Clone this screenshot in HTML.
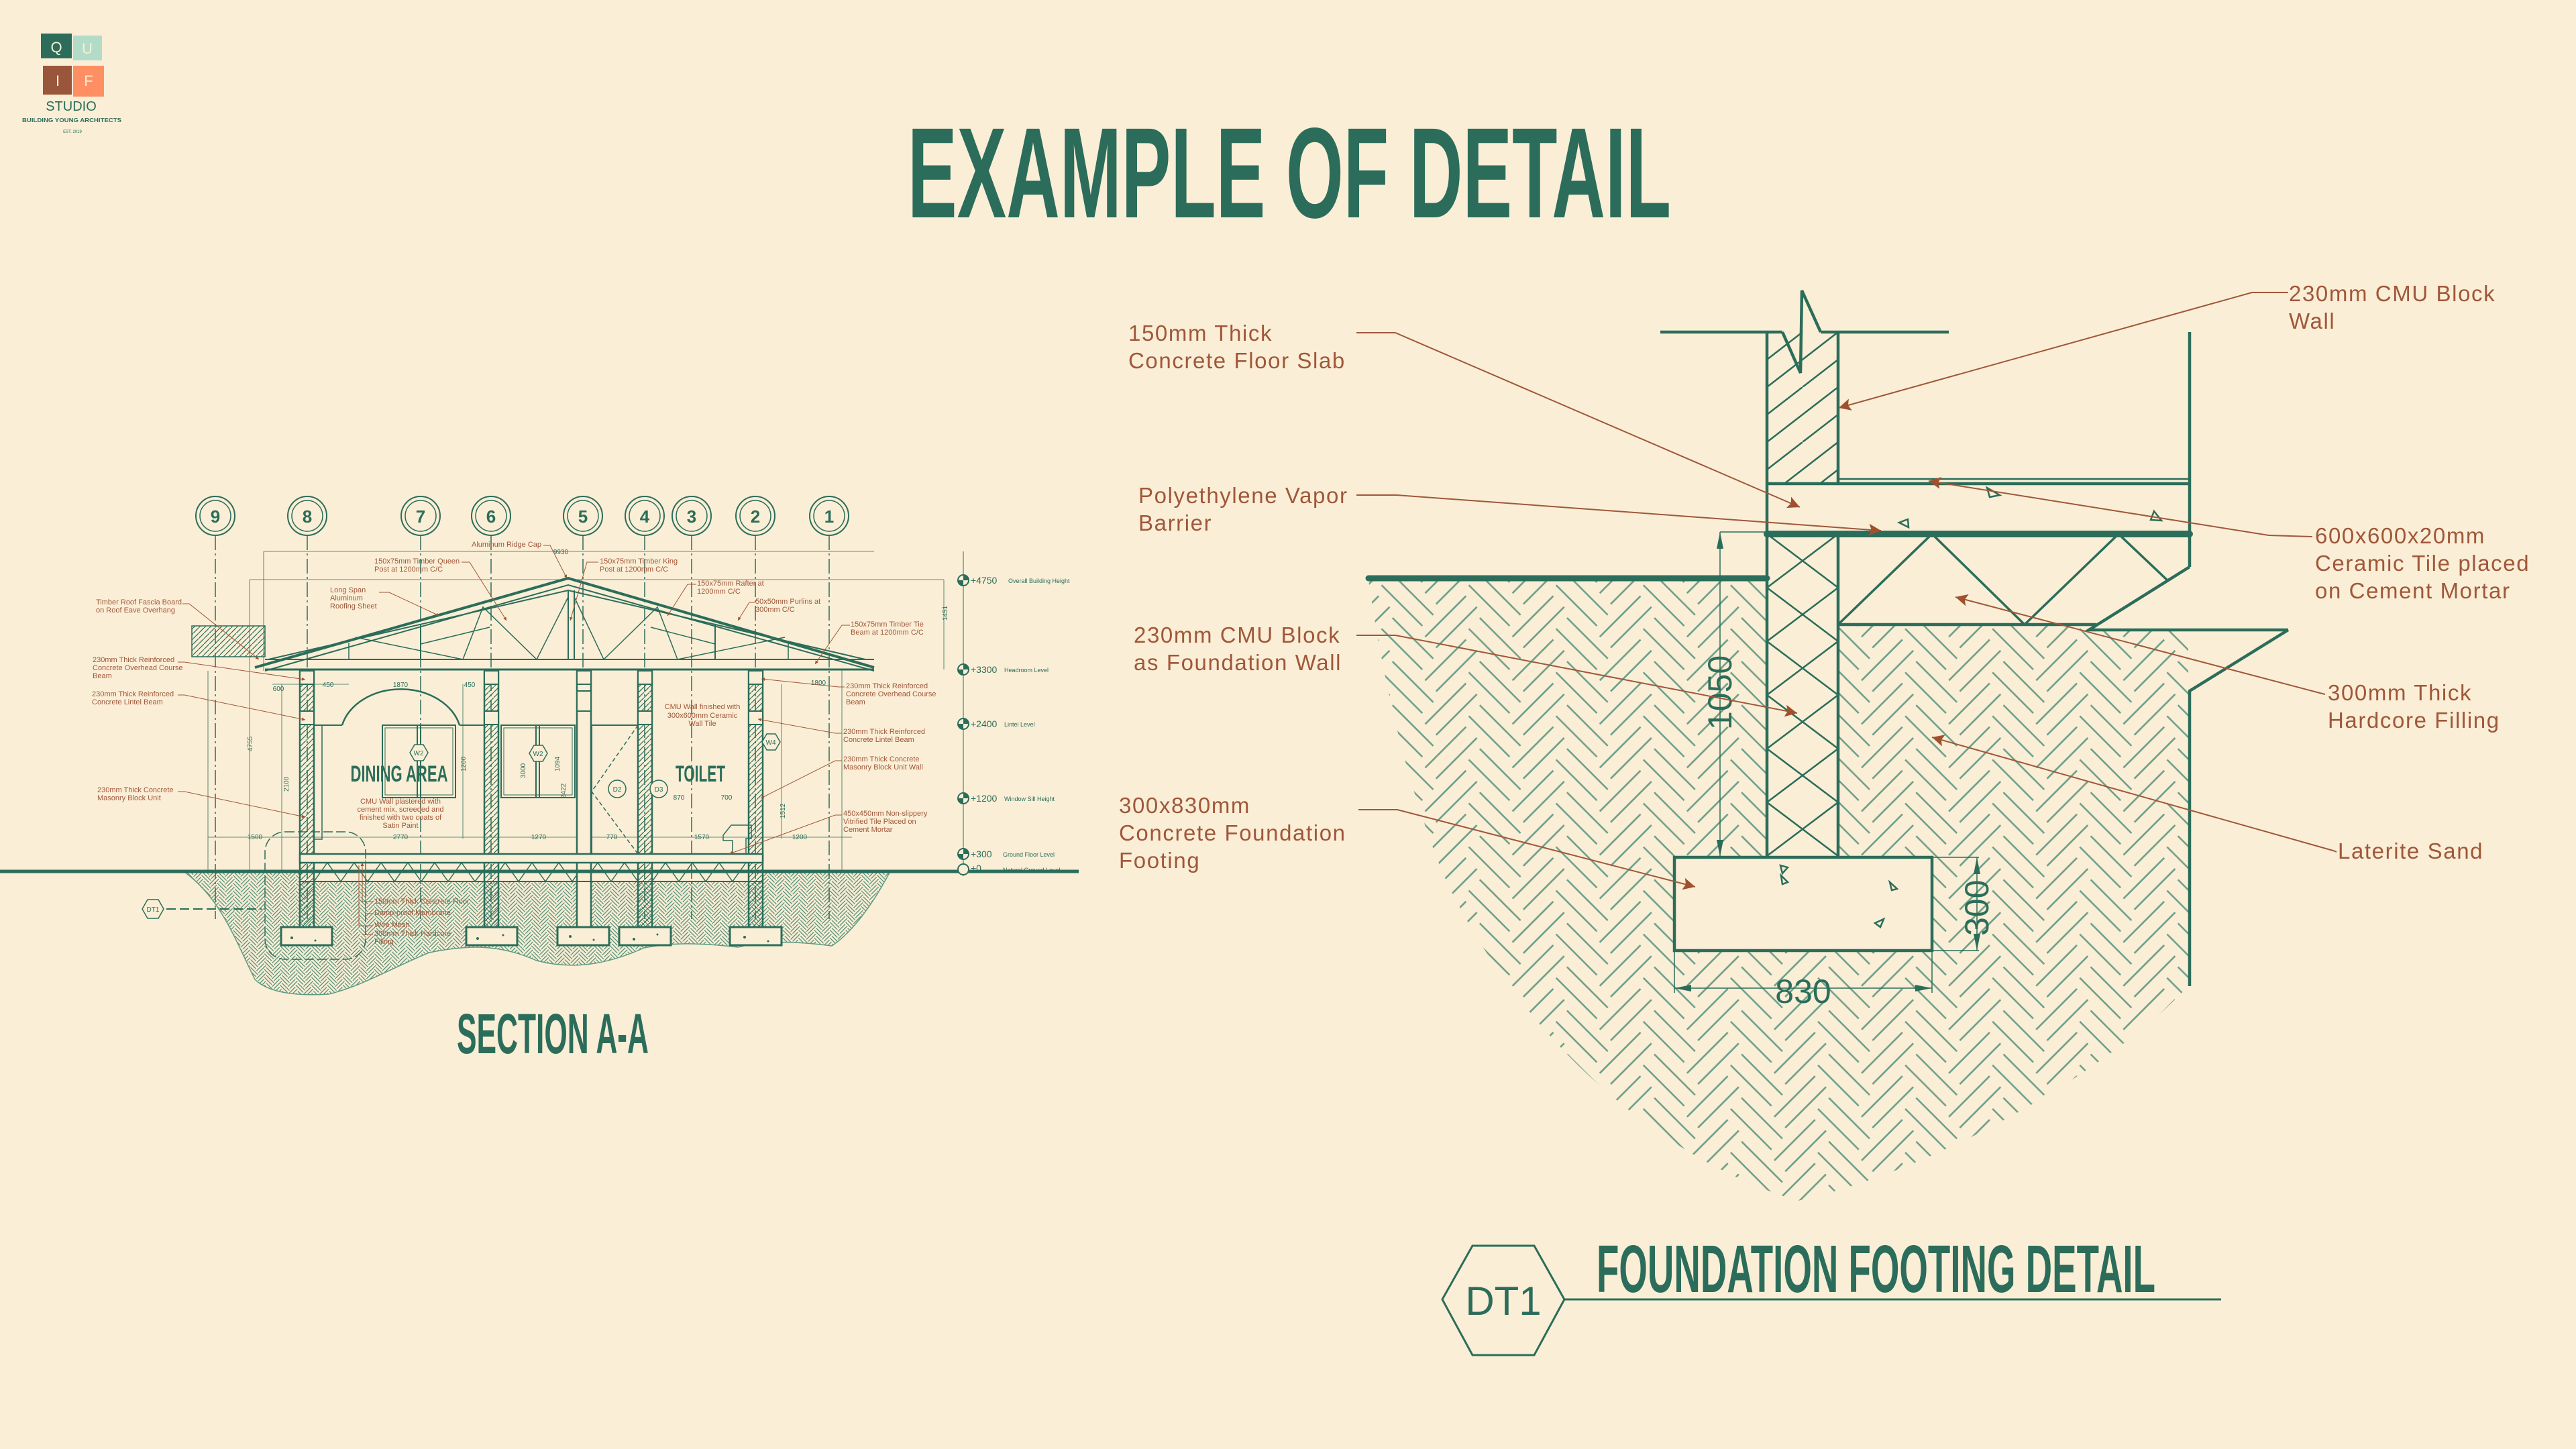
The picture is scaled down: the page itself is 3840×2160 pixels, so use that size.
<!DOCTYPE html>
<html><head><meta charset="utf-8"><style>
html,body{margin:0;padding:0;background:#faeed6;}
svg{display:block}
.lb{font-family:"Liberation Sans",sans-serif;font-size:33px;fill:#a0573a;letter-spacing:1.6px}
.sl{font-family:"Liberation Sans Narrow","Liberation Sans",sans-serif;font-size:11px;fill:#a0573a}
.dm{font-family:"Liberation Sans Narrow","Liberation Sans",sans-serif;font-size:10px;fill:#2b6d5a}
.ld{stroke:#a0573a;stroke-width:2;fill:none}
.lds{stroke:#a0573a;stroke-width:1;fill:none}
.g{stroke:#2b6d5a;fill:none}
</style></head><body>
<svg width="3840" height="2160" viewBox="0 0 3840 2160" xmlns="http://www.w3.org/2000/svg">
<defs>
<pattern id="earth" width="184" height="184" patternUnits="userSpaceOnUse" patternTransform="rotate(45)">
<path stroke="#6a9e88" stroke-width="2.6" fill="none" d="M3 11.5H89 M3 34.5H89 M49 57.5H135 M49 80.5H135 M95 103.5H181 M95 126.5H181 M141 149.5H227 M141 172.5H227 M-43 149.5H43 M-43 172.5H43 M11.5 49V135 M34.5 49V135 M57.5 95V181 M80.5 95V181 M103.5 141V227 M126.5 141V227 M103.5 -43V43 M126.5 -43V43 M149.5 3V89 M172.5 3V89"/></pattern>
<pattern id="earthS" width="184" height="184" patternUnits="userSpaceOnUse" patternTransform="rotate(45) scale(0.18)">
<path stroke="#4f8c74" stroke-width="7" fill="none" d="M3 11.5H89 M3 34.5H89 M49 57.5H135 M49 80.5H135 M95 103.5H181 M95 126.5H181 M141 149.5H227 M141 172.5H227 M-43 149.5H43 M-43 172.5H43 M11.5 49V135 M34.5 49V135 M57.5 95V181 M80.5 95V181 M103.5 141V227 M126.5 141V227 M103.5 -43V43 M126.5 -43V43 M149.5 3V89 M172.5 3V89"/></pattern>
<pattern id="xwall" x="2634" y="796" width="106" height="80" patternUnits="userSpaceOnUse">
<path d="M0 0 L106 80 M106 0 L0 80" stroke="#2b6d5a" stroke-width="2.5"/></pattern>
<pattern id="dwall" x="2634" y="495" width="106" height="82" patternUnits="userSpaceOnUse">
<path d="M0 82 L106 0 M-53 41 L0 0 M53 82 L106 41 M0 41 L53 0 M53 164 L106 82" stroke="#2b6d5a" stroke-width="2.5"/></pattern>
<pattern id="shat" width="8" height="8" patternUnits="userSpaceOnUse"><path d="M0 8 L8 0" stroke="#2b6d5a" stroke-width="1.2"/></pattern>
<marker id="ah" viewBox="0 0 10 10" refX="10" refY="5" markerWidth="44" markerHeight="18" markerUnits="userSpaceOnUse" orient="auto"><path d="M0 0 L10 5 L0 10 L2 5Z" fill="#a0502f"/></marker>
<marker id="ahs" viewBox="0 0 10 10" refX="10" refY="5" markerWidth="10" markerHeight="5" markerUnits="userSpaceOnUse" orient="auto"><path d="M0 0 L10 5 L0 10Z" fill="#a0502f"/></marker>
</defs>

<!-- LOGO -->
<rect x="61" y="50" width="46" height="37" fill="#2b6d5a"/>
<rect x="109" y="53" width="43" height="37" fill="#b2dcc8"/>
<rect x="64" y="98" width="43" height="43" fill="#9a563a"/>
<rect x="109" y="98" width="46" height="46" fill="#fe8f63"/>
<g font-family="Liberation Sans,sans-serif" fill="#faeed6" font-size="22" text-anchor="middle">
<text x="84" y="78">Q</text><text x="130" y="80">U</text><text x="86" y="128">I</text><text x="132" y="128">F</text></g>
<text x="106" y="165" font-family="Liberation Sans,sans-serif" font-size="20" fill="#2b6d5a" text-anchor="middle">STUDIO</text>
<text x="107" y="182" font-family="Liberation Sans,sans-serif" font-size="8.5" font-weight="bold" fill="#2b6d5a" text-anchor="middle" textLength="148" lengthAdjust="spacingAndGlyphs">BUILDING YOUNG ARCHITECTS</text>
<text x="108" y="198" font-family="Liberation Sans,sans-serif" font-size="6" fill="#2b6d5a" text-anchor="middle">EST. 2019</text>

<!-- TITLE -->
<text x="1353" y="324" font-family="Liberation Sans Narrow,Liberation Sans,sans-serif" font-weight="bold" font-size="192" fill="#2b6d5a" textLength="1138" lengthAdjust="spacingAndGlyphs">EXAMPLE OF DETAIL</text>

<!-- ============ FOUNDATION DETAIL ============ -->
<path d="M2040 865 L3262 865 L3262 1470 C3150 1590 2900 1740 2680 1790 C2450 1720 2250 1520 2150 1300 C2090 1150 2060 1000 2040 865Z" fill="url(#earth)"/>
<rect x="2040" y="495" width="1230" height="370" fill="#faeed6"/>
<rect x="2740" y="796" width="530" height="135" fill="#faeed6"/>
<path d="M3262 845 L3114 939 L3262 939Z" fill="#faeed6"/>
<rect x="2634" y="495" width="106" height="301" fill="#faeed6"/>
<rect x="2634" y="495" width="106" height="226" fill="url(#dwall)"/>
<rect x="2634" y="796" width="106" height="482" fill="#faeed6"/>
<rect x="2634" y="796" width="106" height="482" fill="url(#xwall)"/>
<rect x="2496" y="1278" width="384" height="139" fill="#faeed6"/>
<g class="g" stroke-width="4.5">
<line x1="2475" y1="495" x2="2657" y2="495"/><line x1="2714" y1="495" x2="2905" y2="495"/>
<polyline points="2657,495 2684,556 2686,433 2714,495"/>
<line x1="2634" y1="495" x2="2634" y2="1278"/><line x1="2740" y1="495" x2="2740" y2="721"/>
<line x1="2740" y1="796" x2="2740" y2="1278"/>
<line x1="3264" y1="495" x2="3264" y2="845"/>
<line x1="2740" y1="714" x2="3264" y2="714" stroke-width="2.5"/>
<line x1="2634" y1="721" x2="3264" y2="721"/>
<polyline points="3264,845 3114,939 3411,939"/>
<polyline points="3411,939 3264,1030 3264,1470"/>
<line x1="2740" y1="931" x2="3125" y2="931"/>
<polyline points="2740,931 2880,796 3018,931 3158,796 3232,866" stroke-width="3.5"/>
<rect x="2496" y="1278" width="384" height="139"/>
</g>
<line x1="2634" y1="796" x2="3264" y2="796" stroke="#2b6d5a" stroke-width="10" stroke-linecap="round"/>
<line x1="2040" y1="862" x2="2634" y2="862" stroke="#2b6d5a" stroke-width="9" stroke-linecap="round"/>
<g stroke="#2b6d5a" stroke-width="2.5" fill="none">
<path d="M2962 727 L2966 741 L2981 738Z"/><path d="M3211 762 L3206 775 L3222 776Z"/><path d="M2831 779 L2844 774 L2845 786Z"/>
<path d="M2654 1290 L2657 1302 L2665 1293Z"/><path d="M2655 1305 L2657 1318 L2665 1315Z"/><path d="M2817 1315 L2820 1327 L2828 1325Z"/><path d="M2795 1376 L2808 1370 L2803 1382Z"/>
</g>
<g stroke="#2b6d5a" stroke-width="1.5" fill="none">
<line x1="2564" y1="793" x2="2634" y2="793"/><line x1="2564" y1="793" x2="2564" y2="1277"/>
<line x1="2496" y1="1417" x2="2496" y2="1480"/><line x1="2880" y1="1417" x2="2880" y2="1480"/><line x1="2496" y1="1473" x2="2880" y2="1473"/>
<line x1="2880" y1="1278" x2="2950" y2="1278"/><line x1="2880" y1="1417" x2="2950" y2="1417"/><line x1="2947" y1="1278" x2="2947" y2="1417"/>
</g>
<g fill="#2b6d5a"><path d="M2564 793 l-5 25 h10z"/><path d="M2564 1277 l-5 -25 h10z"/><path d="M2496 1473 l25 -5 v10z"/><path d="M2880 1473 l-25 -5 v10z"/><path d="M2947 1278 l-5 25 h10z"/><path d="M2947 1417 l-5 -25 h10z"/></g>
<g font-family="Liberation Sans,sans-serif" font-size="50" fill="#2b6d5a">
<text transform="translate(2581,1088) rotate(-90)">1050</text>
<text x="2688" y="1495" text-anchor="middle">830</text>
<text transform="translate(2964,1395) rotate(-90)">300</text>
</g>
<g class="ld">
<polyline points="2022,496 2080,496 2683,756" marker-end="url(#ah)"/>
<polyline points="2022,738 2082,738 2804,791" marker-end="url(#ah)"/>
<polyline points="2022,947 2080,947 2679,1063" marker-end="url(#ah)"/>
<polyline points="2025,1207 2083,1207 2527,1322" marker-end="url(#ah)"/>
<polyline points="3411,436 3357,436 2741,608" marker-end="url(#ah)"/>
<polyline points="3447,800 3382,798 2875,717" marker-end="url(#ah)"/>
<polyline points="3466,1035 3458,1033 2915,890" marker-end="url(#ah)"/>
<polyline points="3483,1270 3478,1268 2880,1099" marker-end="url(#ah)"/>
</g>
<g class="lb">
<text x="1682" y="508">150mm Thick</text><text x="1682" y="549">Concrete Floor Slab</text>
<text x="1697" y="750">Polyethylene Vapor</text><text x="1697" y="791">Barrier</text>
<text x="1690" y="958">230mm CMU Block</text><text x="1690" y="999">as Foundation Wall</text>
<text x="1668" y="1212">300x830mm</text><text x="1668" y="1253">Concrete Foundation</text><text x="1668" y="1294">Footing</text>
<text x="3412" y="449">230mm CMU Block</text><text x="3412" y="490">Wall</text>
<text x="3451" y="810">600x600x20mm</text><text x="3451" y="851">Ceramic Tile placed</text><text x="3451" y="892">on Cement Mortar</text>
<text x="3470" y="1044">300mm Thick</text><text x="3470" y="1085">Hardcore Filling</text>
<text x="3485" y="1280">Laterite Sand</text>
</g>
<polygon points="2150,1937 2195,1857 2287,1857 2332,1937 2287,2020 2195,2020" fill="none" stroke="#2b6d5a" stroke-width="3"/>
<text x="2241" y="1960" font-family="Liberation Sans,sans-serif" font-size="60" fill="#2b6d5a" text-anchor="middle">DT1</text>
<line x1="2332" y1="1937" x2="3311" y2="1937" stroke="#2b6d5a" stroke-width="3"/>
<text x="2380" y="1926" font-family="Liberation Sans Narrow,Liberation Sans,sans-serif" font-weight="bold" font-size="100" fill="#2b6d5a" textLength="833" lengthAdjust="spacingAndGlyphs">FOUNDATION FOOTING DETAIL</text>

<!-- ============ SECTION A-A ============ -->
<path d="M274 1299 L1327 1299 C1300 1350 1270 1390 1240 1410 C1200 1405 1150 1400 1100 1412 C1040 1405 1000 1405 960 1413 C900 1440 850 1445 800 1432 C740 1405 690 1410 640 1420 C590 1440 540 1470 490 1482 C440 1485 400 1480 380 1460 C350 1400 330 1340 274 1299Z" fill="url(#earthS)" stroke="#5f9c84" stroke-width="1.5"/>
<rect x="447" y="1286" width="690" height="28" fill="#faeed6"/>
<g stroke="#2b6d5a" fill="#faeed6">
<g stroke-width="2"><circle cx="321" cy="769" r="29"/><circle cx="458" cy="769" r="29"/><circle cx="627" cy="769" r="29"/><circle cx="732" cy="769" r="29"/><circle cx="869" cy="769" r="29"/><circle cx="961" cy="769" r="29"/><circle cx="1031" cy="769" r="29"/><circle cx="1126" cy="769" r="29"/><circle cx="1236" cy="769" r="29"/></g>
<g stroke-width="1.5"><circle cx="321" cy="769" r="23"/><circle cx="458" cy="769" r="23"/><circle cx="627" cy="769" r="23"/><circle cx="732" cy="769" r="23"/><circle cx="869" cy="769" r="23"/><circle cx="961" cy="769" r="23"/><circle cx="1031" cy="769" r="23"/><circle cx="1126" cy="769" r="23"/><circle cx="1236" cy="769" r="23"/></g>
</g>
<g font-family="Liberation Sans Narrow,Liberation Sans,sans-serif" font-weight="bold" font-size="26" fill="#2b6d5a" text-anchor="middle">
<text x="321" y="779">9</text><text x="458" y="779">8</text><text x="627" y="779">7</text><text x="732" y="779">6</text><text x="869" y="779">5</text><text x="961" y="779">4</text><text x="1031" y="779">3</text><text x="1126" y="779">2</text><text x="1236" y="779">1</text></g>
<g stroke="#2b6d5a" stroke-width="1.5" stroke-dasharray="22 5 3 5">
<line x1="321" y1="798" x2="321" y2="1370"/><line x1="458" y1="798" x2="458" y2="1370"/><line x1="627" y1="798" x2="627" y2="1370"/><line x1="732" y1="798" x2="732" y2="1370"/><line x1="869" y1="798" x2="869" y2="1370"/><line x1="961" y1="798" x2="961" y2="1370"/><line x1="1031" y1="798" x2="1031" y2="1370"/><line x1="1126" y1="798" x2="1126" y2="1370"/><line x1="1236" y1="798" x2="1236" y2="1370"/></g>
<g stroke="#2b6d5a" stroke-width="0.8" fill="none">
<line x1="393" y1="822" x2="1303" y2="822"/><line x1="372" y1="864" x2="1407" y2="864"/><line x1="372" y1="864" x2="372" y2="1298"/><line x1="1407" y1="864" x2="1407" y2="998"/>
<line x1="310" y1="1248" x2="1270" y2="1248"/><line x1="393" y1="822" x2="393" y2="1000"/>
<line x1="406" y1="1020" x2="520" y2="1020"/><line x1="420" y1="1020" x2="420" y2="1298"/>
<line x1="690" y1="1020" x2="690" y2="1250"/><line x1="1165" y1="1020" x2="1165" y2="1250"/>
<line x1="1255" y1="998" x2="1255" y2="1298"/><line x1="310" y1="1000" x2="310" y2="1298"/>
</g>
<rect x="286" y="933" width="109" height="46" fill="url(#shat)" stroke="#2b6d5a" stroke-width="1.5"/>
<g class="g">
<polyline points="380,995 847,862 1303,995" stroke-width="4"/>
<polyline points="395,1000 847,872 1303,1000" stroke-width="2"/>
<polyline points="400,983 847,880 1290,983" stroke-width="2"/>
<line x1="395" y1="983" x2="1303" y2="983" stroke-width="2"/>
<line x1="395" y1="998" x2="1303" y2="998" stroke-width="3"/>
<line x1="847" y1="880" x2="847" y2="983" stroke-width="2"/><line x1="856" y1="880" x2="856" y2="983" stroke-width="2"/>
<line x1="627" y1="930" x2="627" y2="983" stroke-width="2"/><line x1="1066" y1="930" x2="1066" y2="983" stroke-width="2"/>
<line x1="520" y1="958" x2="520" y2="983" stroke-width="1.5"/><line x1="1175" y1="958" x2="1175" y2="983" stroke-width="1.5"/>
<polyline points="530,950 690,983 720,905 800,983 847,890" stroke-width="1.5"/>
<polyline points="1170,950 1010,983 980,905 900,983 856,890" stroke-width="1.5"/>
<polyline points="627,960 730,935" stroke-width="1.5"/><polyline points="1066,960 970,935" stroke-width="1.5"/>
</g>
<g>
<rect x="447" y="998" width="21" height="384" fill="url(#shat)" stroke="#2b6d5a" stroke-width="2.5"/>
<rect x="722" y="998" width="21" height="384" fill="url(#shat)" stroke="#2b6d5a" stroke-width="2.5"/>
<rect x="860" y="998" width="21" height="384" fill="#faeed6" stroke="#2b6d5a" stroke-width="2.5"/>
<rect x="951" y="998" width="21" height="384" fill="url(#shat)" stroke="#2b6d5a" stroke-width="2.5"/>
<rect x="1116" y="998" width="21" height="384" fill="url(#shat)" stroke="#2b6d5a" stroke-width="2.5"/>
</g>
<g fill="#faeed6" stroke="#2b6d5a" stroke-width="2">
<rect x="447" y="1000" width="21" height="20"/><rect x="447" y="1060" width="21" height="20"/>
<rect x="722" y="1000" width="21" height="20"/><rect x="722" y="1060" width="21" height="20"/>
<rect x="860" y="1000" width="21" height="20"/><rect x="860" y="1030" width="21" height="30"/>
<rect x="951" y="1000" width="21" height="20"/><rect x="951" y="1060" width="21" height="20"/>
<rect x="1116" y="1000" width="21" height="20"/><rect x="1116" y="1060" width="21" height="20"/>
</g>
<g class="g" stroke-width="2">
<rect x="570" y="1081" width="109" height="108"/><rect x="574" y="1085" width="101" height="100" stroke-width="1"/><line x1="622" y1="1081" x2="622" y2="1189"/><line x1="627" y1="1081" x2="627" y2="1189"/>
<rect x="747" y="1081" width="110" height="108"/><rect x="751" y="1085" width="102" height="100" stroke-width="1"/><line x1="799" y1="1081" x2="799" y2="1189"/><line x1="804" y1="1081" x2="804" y2="1189"/>
<rect x="882" y="1081" width="69" height="192"/>
<polyline points="951,1081 882,1180 951,1273" stroke-dasharray="6 4" stroke-width="1.5"/>
<path d="M510 1081 A90 70 0 0 1 685 1081" stroke-width="2.5"/>
<line x1="468" y1="1081" x2="510" y2="1081"/><line x1="685" y1="1081" x2="722" y2="1081"/>
<rect x="468" y="1081" width="12" height="170" stroke-width="1.5"/>
<line x1="1137" y1="1130" x2="1137" y2="1273" stroke-width="1"/>
<path d="M1090 1230 h30 v20 h-8 v25 h-20 v-22 h-14 v-8z" stroke-width="1.5"/>
</g>
<rect x="447" y="1273" width="690" height="13" fill="#faeed6" stroke="#2b6d5a" stroke-width="2.5"/>
<g class="g" stroke-width="1.5">
<line x1="447" y1="1314" x2="1137" y2="1314" stroke-width="2"/>
<polyline points="468,1314 488,1286 508,1314 528,1286 548,1314 568,1286 588,1314 608,1286 628,1314 648,1286 668,1314 688,1286 708,1314 722,1296"/>
<polyline points="743,1300 753,1286 773,1314 793,1286 813,1314 833,1286 853,1314 860,1304"/>
<polyline points="881,1300 891,1286 911,1314 931,1286 951,1314"/>
<polyline points="972,1314 992,1286 1012,1314 1032,1286 1052,1314 1072,1286 1092,1314 1112,1286"/>
</g>
<g fill="#faeed6" stroke="#2b6d5a" stroke-width="3">
<rect x="419" y="1382" width="76" height="27"/><rect x="695" y="1382" width="76" height="27"/><rect x="831" y="1382" width="77" height="27"/><rect x="923" y="1382" width="77" height="27"/><rect x="1088" y="1382" width="77" height="27"/>
</g>
<g fill="#2b6d5a"><circle cx="435" cy="1398" r="2"/><circle cx="712" cy="1399" r="2"/><circle cx="850" cy="1396" r="2"/><circle cx="945" cy="1400" r="2"/><circle cx="1110" cy="1397" r="2"/><circle cx="470" cy="1402" r="1.5"/><circle cx="750" cy="1394" r="1.5"/><circle cx="885" cy="1401" r="1.5"/><circle cx="980" cy="1393" r="1.5"/><circle cx="1145" cy="1403" r="1.5"/></g>
<rect x="395" y="1240" width="150" height="190" rx="30" fill="none" stroke="#2b6d5a" stroke-width="1.5" stroke-dasharray="14 5"/>
<polygon points="212,1355 220,1341 236,1341 244,1355 236,1369 220,1369" fill="#faeed6" stroke="#2b6d5a" stroke-width="1.5"/>
<text x="228" y="1359" class="dm" text-anchor="middle">DT1</text>
<line x1="248" y1="1355" x2="390" y2="1355" stroke="#2b6d5a" stroke-width="2" stroke-dasharray="14 6"/>
<line x1="0" y1="1299" x2="1608" y2="1299" stroke="#2b6d5a" stroke-width="5"/>
<line x1="1436" y1="822" x2="1436" y2="1306" stroke="#2b6d5a" stroke-width="1"/>
<g fill="#faeed6" stroke="#2b6d5a" stroke-width="2">
<circle cx="1436" cy="865" r="8"/><circle cx="1436" cy="998" r="8"/><circle cx="1436" cy="1079" r="8"/><circle cx="1436" cy="1190" r="8"/><circle cx="1436" cy="1273" r="8"/><circle cx="1436" cy="1296" r="8"/></g>
<g fill="#2b6d5a"><path d="M1436 857 a8 8 0 0 1 8 8 h-8z M1436 873 a8 8 0 0 1 -8 -8 h8z"/><path d="M1436 990 a8 8 0 0 1 8 8 h-8z M1436 1006 a8 8 0 0 1 -8 -8 h8z"/><path d="M1436 1071 a8 8 0 0 1 8 8 h-8z M1436 1087 a8 8 0 0 1 -8 -8 h8z"/><path d="M1436 1182 a8 8 0 0 1 8 8 h-8z M1436 1198 a8 8 0 0 1 -8 -8 h8z"/><path d="M1436 1265 a8 8 0 0 1 8 8 h-8z M1436 1281 a8 8 0 0 1 -8 -8 h8z"/></g>
<g font-family="Liberation Sans Narrow,Liberation Sans,sans-serif" fill="#2b6d5a">
<g font-size="14"><text x="1447" y="870">+4750</text><text x="1447" y="1003">+3300</text><text x="1447" y="1084">+2400</text><text x="1447" y="1195">+1200</text><text x="1447" y="1278">+300</text><text x="1447" y="1299">+0</text></g>
<g font-size="9"><text x="1503" y="869">Overall Building Height</text><text x="1497" y="1002">Headroom Level</text><text x="1497" y="1083">Lintel Level</text><text x="1497" y="1194">Window Sill Height</text><text x="1495" y="1277">Ground Floor Level</text><text x="1495" y="1300">Natural Ground Level</text></g>
</g>
<g font-family="Liberation Sans Narrow,Liberation Sans,sans-serif" font-weight="bold" font-size="34" fill="#2b6d5a" text-anchor="middle">
<text x="595" y="1165" textLength="145" lengthAdjust="spacingAndGlyphs">DINING AREA</text>
<text x="1044" y="1165" textLength="74" lengthAdjust="spacingAndGlyphs">TOILET</text></g>
<g fill="#faeed6" stroke="#2b6d5a" stroke-width="1.5">
<polygon points="611,1122 618,1110 631,1110 638,1122 631,1134 618,1134"/>
<polygon points="789,1123 796,1111 809,1111 816,1123 809,1135 796,1135"/>
<polygon points="1136,1106 1143,1094 1156,1094 1163,1106 1156,1118 1143,1118"/>
<circle cx="920" cy="1176" r="13"/><circle cx="982" cy="1176" r="13"/></g>
<g class="dm" font-size="11" text-anchor="middle"><text x="624" y="1126">W2</text><text x="802" y="1127">W2</text><text x="1149" y="1110">W4</text><text x="920" y="1180">D2</text><text x="982" y="1180">D3</text></g>
<g class="dm" text-anchor="middle">
<text x="836" y="826">9930</text><text x="489" y="1024">450</text><text x="597" y="1024">1870</text><text x="700" y="1024">450</text><text x="1220" y="1021">1800</text>
<text x="380" y="1251">1500</text><text x="597" y="1251">2770</text><text x="803" y="1251">1270</text><text x="912" y="1251">770</text><text x="1046" y="1251">1570</text><text x="1192" y="1251">1200</text>
<text x="1012" y="1192">870</text><text x="1083" y="1192">700</text><text x="415" y="1030">600</text>
</g>
<g class="dm"><text transform="translate(376,1120) rotate(-90)">4755</text><text transform="translate(430,1180) rotate(-90)">2100</text><text transform="translate(834,1150) rotate(-90)">1094</text><text transform="translate(1412,925) rotate(-90)">1451</text><text transform="translate(783,1160) rotate(-90)">3000</text><text transform="translate(843,1190) rotate(-90)">2422</text><text transform="translate(694,1150) rotate(-90)">1200</text><text transform="translate(1170,1220) rotate(-90)">1512</text></g>
<g class="sl">
<text x="703" y="815">Aluminum Ridge Cap</text>
<text x="558" y="840">150x75mm Timber Queen</text><text x="558" y="852">Post at 1200mm C/C</text>
<text x="894" y="840">150x75mm Timber King</text><text x="894" y="852">Post at 1200mm C/C</text>
<text x="492" y="883">Long Span</text><text x="492" y="895">Aluminum</text><text x="492" y="907">Roofing Sheet</text>
<text x="143" y="901">Timber Roof Fascia Board</text><text x="143" y="913">on Roof Eave Overhang</text>
<text x="1039" y="873">150x75mm Rafter at</text><text x="1039" y="885">1200mm C/C</text>
<text x="1126" y="900">50x50mm Purlins at</text><text x="1126" y="912">300mm C/C</text>
<text x="1268" y="934">150x75mm Timber Tie</text><text x="1268" y="946">Beam at 1200mm C/C</text>
<text x="138" y="987">230mm Thick Reinforced</text><text x="138" y="999">Concrete Overhead Course</text><text x="138" y="1011">Beam</text>
<text x="137" y="1038">230mm Thick Reinforced</text><text x="137" y="1050">Concrete Lintel Beam</text>
<text x="145" y="1181">230mm Thick Concrete</text><text x="145" y="1193">Masonry Block Unit</text>
<text x="1261" y="1026">230mm Thick Reinforced</text><text x="1261" y="1038">Concrete Overhead Course</text><text x="1261" y="1050">Beam</text>
<text x="1257" y="1094">230mm Thick Reinforced</text><text x="1257" y="1106">Concrete Lintel Beam</text>
<text x="1257" y="1135">230mm Thick Concrete</text><text x="1257" y="1147">Masonry Block Unit Wall</text>
<text x="1257" y="1216">450x450mm Non-slippery</text><text x="1257" y="1228">Vitrified Tile Placed on</text><text x="1257" y="1240">Cement Mortar</text>
<text x="558" y="1347">150mm Thick Concrete Floor</text><text x="558" y="1364">Damp-proof Membrane</text><text x="558" y="1382">Wire Mesh</text><text x="558" y="1395">300mm Thick Hardcore</text><text x="558" y="1407">Filling</text>
</g>
<g class="sl" text-anchor="middle">
<text x="1047" y="1057">CMU Wall finished with</text><text x="1047" y="1070">300x600mm Ceramic</text><text x="1047" y="1082">Wall Tile</text>
<text x="597" y="1198">CMU Wall plastered with</text><text x="597" y="1210">cement mix, screeded and</text><text x="597" y="1222">finished with two coats of</text><text x="597" y="1234">Satin Paint</text>
</g>
<g class="lds">
<polyline points="810,813 820,813 845,862" marker-end="url(#ahs)"/>
<polyline points="688,838 700,838 755,925" marker-end="url(#ahs)"/>
<polyline points="892,838 875,838 850,925" marker-end="url(#ahs)"/>
<polyline points="565,883 580,883 655,918" marker-end="url(#ahs)"/>
<polyline points="272,900 282,900 386,983" marker-end="url(#ahs)"/>
<polyline points="1038,871 1025,871 995,918" marker-end="url(#ahs)"/>
<polyline points="1125,898 1117,898 1100,925" marker-end="url(#ahs)"/>
<polyline points="1267,932 1255,932 1215,990" marker-end="url(#ahs)"/>
<polyline points="265,987 275,987 455,1013" marker-end="url(#ahs)"/>
<polyline points="265,1036 275,1036 455,1073" marker-end="url(#ahs)"/>
<polyline points="265,1180 275,1180 455,1218" marker-end="url(#ahs)"/>
<polyline points="1259,1024 1250,1024 1135,1012" marker-end="url(#ahs)"/>
<polyline points="1255,1093 1245,1093 1130,1072" marker-end="url(#ahs)"/>
<polyline points="1255,1134 1245,1134 1134,1190" marker-end="url(#ahs)"/>
<polyline points="1255,1215 1245,1215 1087,1273" marker-end="url(#ahs)"/>
<polyline points="556,1344 540,1344 540,1286" marker-end="url(#ahs)"/>
<polyline points="556,1362 545,1362 545,1282"/>
<polyline points="556,1380 535,1380 535,1290"/>
<polyline points="556,1393 540,1393"/>
</g>
<text x="681" y="1570" font-family="Liberation Sans Narrow,Liberation Sans,sans-serif" font-weight="bold" font-size="84" fill="#2b6d5a" textLength="286" lengthAdjust="spacingAndGlyphs">SECTION A-A</text>
</svg>
</body></html>
